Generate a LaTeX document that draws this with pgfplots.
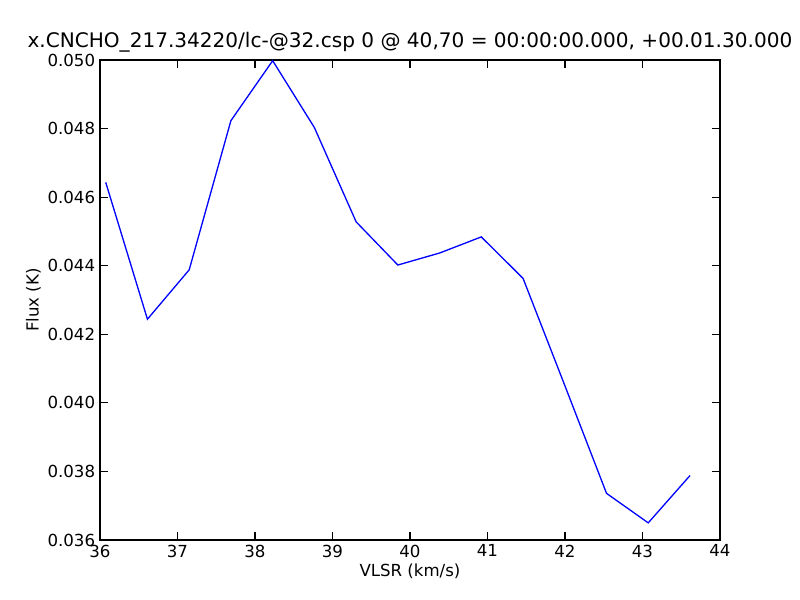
\documentclass[border=0pt]{standalone}
\usepackage{fontspec}
\setmainfont{DejaVu Sans}
\usepackage{pgfplots}
\pgfplotsset{compat=1.18}
\begin{document}
\begin{tikzpicture}[x=1in,y=1in]
\useasboundingbox (-1.0,-0.6) rectangle (7.0,5.4);
\begin{axis}[
  at={(0,0)}, anchor=south west,
  scale only axis, width=6.2in, height=4.8in,
  xmin=36, xmax=44, ymin=0.036, ymax=0.050,
  xtick={36,37,...,44},
  ytick={0.036,0.038,0.040,0.042,0.044,0.046,0.048,0.050},
  /pgf/number format/assume math mode=true,
  yticklabel style={/pgf/number format/fixed,/pgf/number format/fixed zerofill,/pgf/number format/precision=3},
  scaled y ticks=false,
  tick align=inside,
  major tick length=5.5pt,
  axis line style={line width=0.75pt},
  tick style={line width=0.75pt,black},
  ticklabel style={font=\fontsize{12}{14}\selectfont},
  xlabel={VLSR (km/s)}, ylabel={Flux (K)},
  label style={font=\fontsize{12}{14}\selectfont},
  xlabel style={yshift=2pt},
  ylabel style={yshift=-2pt},
  title={x.CNCHO\_217.34220/lc-@32.csp 0 @ 40,70 = 00:00:00.000, +00.01.30.000},
  title style={font=\fontsize{14.5}{16}\selectfont, yshift=-4pt},
]
\addplot[blue, line width=0.95pt, mark=none] coordinates {
(36.074,0.04643)
(36.612,0.04244)
(37.151,0.04388)
(37.689,0.04823)
(38.228,0.04998)
(38.766,0.04803)
(39.305,0.04528)
(39.843,0.04402)
(40.382,0.04437)
(40.920,0.04484)
(41.459,0.04363)
(41.997,0.04051)
(42.536,0.03736)
(43.074,0.03650)
(43.613,0.03788)
};
\end{axis}
\end{tikzpicture}
\end{document}
